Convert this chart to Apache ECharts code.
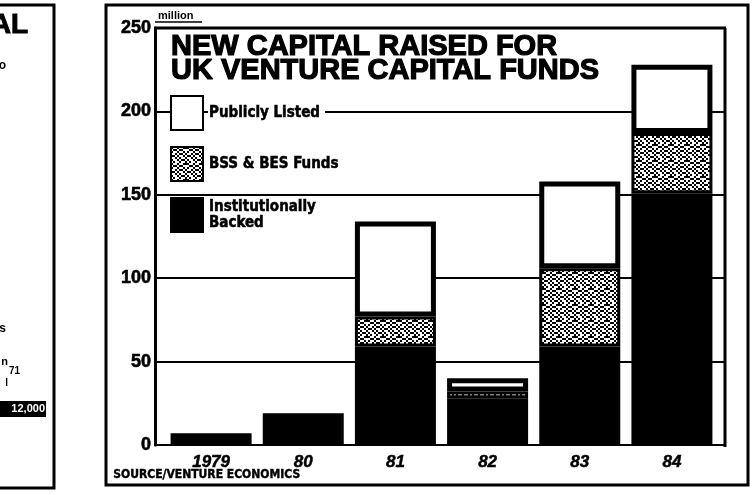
<!DOCTYPE html>
<html><head><meta charset="utf-8">
<script src="https://cdn.jsdelivr.net/npm/echarts@6/dist/echarts.min.js"></script>
<style>html,body{margin:0;padding:0;background:#fff}#c{width:755px;height:495px}</style>
</head><body><div id="c"></div>
<script>
// ---- data ----
const categories = ['1979', '80', '81', '82', '83', '84'];
const institutional = [7, 19, 59, 28, 59, 151];
const bssBes = [null, null, 18, 4, 47, 36];
const publiclyListed = [null, null, 57, 8, 52, 41];
const yTicks = [0, 50, 100, 150, 200, 250];
const seriesNames = ['Institutionally Backed', 'BSS & BES Funds', 'Publicly Listed'];
const legendOrder = ['Publicly Listed', 'BSS & BES Funds', 'Institutionally Backed'];

const F = '"Liberation Sans", Arial, sans-serif';
const FN = '"Liberation Sans Narrow", "DejaVu Sans Condensed", "Liberation Sans", sans-serif';

function makePattern() {
  const rows = [
    '01101100',
    '10010011',
    '01101101',
    '11010010',
    '00101101',
    '11010110',
    '01101001',
    '10110110'
  ];
  const s = 2;
  const c = document.createElement('canvas');
  c.width = 8 * s; c.height = 8 * s;
  const ctx = c.getContext('2d');
  ctx.fillStyle = '#000'; ctx.fillRect(0, 0, c.width, c.height);
  ctx.fillStyle = '#fff';
  rows.forEach((r, y) => { [...r].forEach((ch, x) => { if (ch === '1') ctx.fillRect(x * s, y * s, s, s); }); });
  return c;
}
const pat = makePattern();

const chart = echarts.init(document.getElementById('c'), null, { renderer: 'canvas' });
const blk = '#000';
chart.setOption({
  animation: false,
  backgroundColor: '#fff',
  title: {
    text: 'NEW CAPITAL RAISED FOR\nUK VENTURE CAPITAL FUNDS',
    left: 171, top: 35, padding: 0,
    textStyle: { fontFamily: F, fontWeight: 900, fontSize: 29, lineHeight: 24, color: blk,
      textBorderColor: blk, textBorderWidth: 1.2 }
  },
  legend: {
    orient: 'vertical', left: 170, top: 95, padding: 0,
    itemWidth: 32, itemHeight: 34, itemGap: 15, icon: 'rect',
    selectedMode: false,
    data: legendOrder,
    formatter: n => n === 'Institutionally Backed' ? 'Institutionally\nBacked' : n,
    textStyle: { fontFamily: FN, fontWeight: 'bold', fontSize: 15, lineHeight: 16, color: blk,
      textBorderColor: blk, textBorderWidth: 0.5,
      backgroundColor: '#fff', padding: [2, 5, 2, 1] }
  },
  grid: [
    { left: 155, right: 30, top: 28, bottom: 50 },
    { left: 165, right: 37, top: 28, bottom: 50 }
  ],
  xAxis: [
    { gridIndex: 0, type: 'category', data: [''],
      axisLine: { show: true, lineStyle: { color: blk, width: 2 } },
      axisTick: { show: false }, axisLabel: { show: false }, splitLine: { show: false } },
    { gridIndex: 1, type: 'category', data: categories,
      axisLine: { show: false }, axisTick: { show: false },
      axisLabel: { fontFamily: F, fontStyle: 'italic', fontWeight: 'bold', fontSize: 17, color: blk, margin: 9,
        textBorderColor: blk, textBorderWidth: 0.5 } }
  ],
  yAxis: [
    { gridIndex: 0, type: 'value', min: yTicks[0], max: yTicks[yTicks.length - 1], interval: yTicks[1] - yTicks[0],
      axisLine: { show: true, lineStyle: { color: blk, width: 3 } },
      axisTick: { show: true, inside: true, length: 15, lineStyle: { color: blk, width: 2 } },
      axisLabel: { fontFamily: F, fontWeight: 'bold', fontSize: 18, color: blk, margin: 4,
        textBorderColor: blk, textBorderWidth: 0.6 },
      splitLine: { show: true, lineStyle: { color: blk, width: 2 } } },
    { gridIndex: 1, type: 'value', min: yTicks[0], max: yTicks[yTicks.length - 1], show: false, splitLine: { show: false } }
  ],
  series: [
    { name: seriesNames[0], type: 'bar', stack: 't', xAxisIndex: 1, yAxisIndex: 1, data: institutional, barWidth: 81,
      itemStyle: { color: blk, borderColor: blk, borderWidth: 3 }, emphasis: { disabled: true } },
    { name: seriesNames[1], type: 'bar', stack: 't', xAxisIndex: 1, yAxisIndex: 1, data: bssBes, barWidth: 81,
      itemStyle: { color: { image: pat, repeat: 'repeat' }, borderColor: blk, borderWidth: 3 }, emphasis: { disabled: true } },
    { name: seriesNames[2], type: 'bar', stack: 't', xAxisIndex: 1, yAxisIndex: 1, data: publiclyListed, barWidth: 81,
      itemStyle: { color: '#fff', borderColor: blk, borderWidth: 5 }, emphasis: { disabled: true } }
  ],
  graphic: [
    // outer frame
    { type: 'rect', shape: { x: 106, y: 5, width: 642, height: 480 }, style: { fill: null, stroke: blk, lineWidth: 3 }, silent: true },
    // inner frame top and right
    { type: 'line', shape: { x1: 154, y1: 28, x2: 726, y2: 28 }, style: { stroke: blk, lineWidth: 3 }, silent: true },
    { type: 'line', shape: { x1: 725, y1: 28, x2: 725, y2: 447 }, style: { stroke: blk, lineWidth: 3 }, silent: true },
    // million label
    { type: 'text', left: 158, top: 10, style: { text: 'million', font: 'bold 11px ' + F, fill: blk }, silent: true },
    { type: 'line', shape: { x1: 155, y1: 22, x2: 202, y2: 22 }, style: { stroke: blk, lineWidth: 1.5 }, silent: true },
    // source
    { type: 'text', left: 113, top: 469, style: { text: 'SOURCE/VENTURE ECONOMICS', font: 'bold 12px ' + FN, fill: blk, stroke: blk, lineWidth: 0.4 }, silent: true },
    // neighbouring (cropped) panel on the left
    { type: 'polyline', shape: { points: [[0, 5], [54, 5], [54, 488], [0, 488]] }, style: { fill: null, stroke: blk, lineWidth: 3 }, silent: true },
    { type: 'text', x: 28, y: 11, style: { text: 'AL', font: '900 28px ' + F, fill: blk, align: 'right', stroke: blk, lineWidth: 1 }, silent: true },
    { type: 'text', x: 6, y: 60, style: { text: 'o', font: 'bold 12px ' + F, fill: blk, align: 'right' }, silent: true },
    { type: 'text', x: 6, y: 323, style: { text: 's', font: 'bold 12px ' + F, fill: blk, align: 'right' }, silent: true },
    { type: 'text', x: 8, y: 356, style: { text: 'n', font: 'bold 11px ' + F, fill: blk, align: 'right' }, silent: true },
    { type: 'text', x: 20, y: 366, style: { text: '71', font: 'bold 10px ' + F, fill: blk, align: 'right' }, silent: true },
    { type: 'text', x: 8, y: 378, style: { text: 'l', font: 'bold 10px ' + F, fill: blk, align: 'right' }, silent: true },
    { type: 'rect', shape: { x: 0, y: 401, width: 46, height: 16 }, style: { fill: blk }, silent: true },
    { type: 'text', x: 45, y: 403, style: { text: '12,000', font: 'bold 11px ' + F, fill: '#fff', align: 'right' }, silent: true }
  ]
});
</script>
</body></html>
